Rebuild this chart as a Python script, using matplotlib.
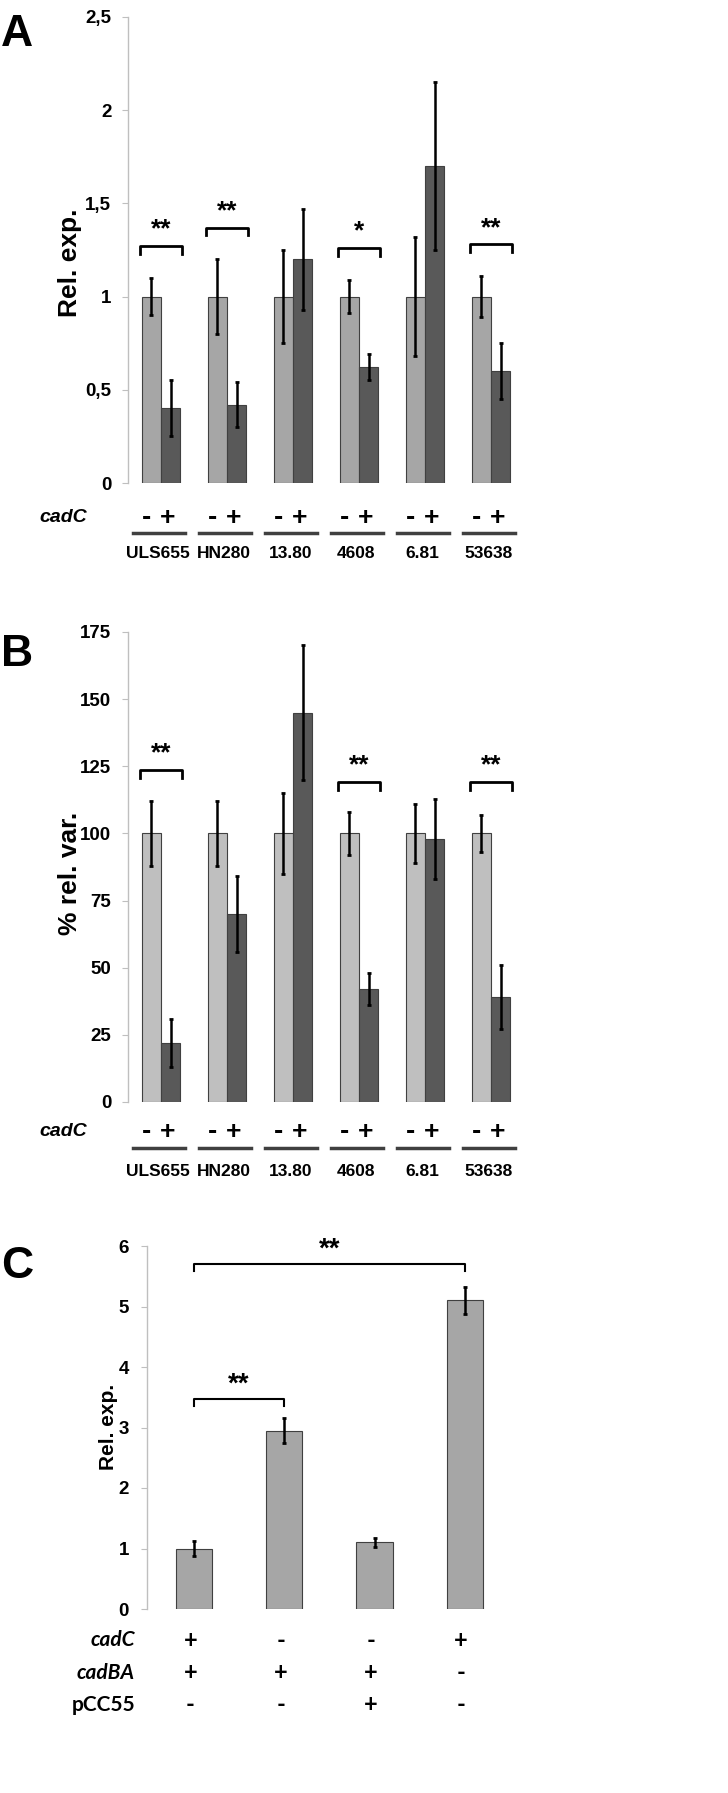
import numpy as np
import matplotlib
matplotlib.use('Agg')
import matplotlib.pyplot as plt
import matplotlib.transforms as mtransforms

# data
strains = ['ULS655', 'HN280', '13.80', '4608', '6.81', '53638']

a_minus = [1.0, 1.0, 1.0, 1.0, 1.0, 1.0]
a_minus_err = [0.10, 0.20, 0.25, 0.09, 0.32, 0.11]
a_plus = [0.40, 0.42, 1.20, 0.62, 1.70, 0.60]
a_plus_err = [0.15, 0.12, 0.27, 0.07, 0.45, 0.15]
a_sig = ['**', '**', '', '*', '', '**']
a_sig_y = [1.27, 1.37, 0, 1.26, 0, 1.28]

b_minus = [100, 100, 100, 100, 100, 100]
b_minus_err = [12, 12, 15, 8, 11, 7]
b_plus = [22, 70, 145, 42, 98, 39]
b_plus_err = [9, 14, 25, 6, 15, 12]
b_sig = ['**', '', '', '**', '', '**']
b_sig_y = [123.5, 0, 0, 119, 0, 119]

c_vals = [1.0, 2.95, 1.1, 5.1]
c_err = [0.12, 0.20, 0.08, 0.22]
c_cadC = ['+', '-', '-', '+']
c_cadBA = ['+', '+', '+', '-']
c_pCC55 = ['-', '-', '+', '-']

NARROW = ['Liberation Sans Narrow', 'Liberation Sans', 'DejaVu Sans']
BOLD = ['Liberation Sans', 'DejaVu Sans']
CAL = ['Lato', 'DejaVu Sans']

W, H = 728, 1793
fig = plt.figure(figsize=(W / 100, H / 100), dpi=100)


def fy(py):
    return 1 - py / H


def make_ax(left, right, top, bottom):
    return fig.add_axes([left / W, 1 - bottom / H, (right - left) / W, (bottom - top) / H])


def style_ax(ax, ticks, labels, pad):
    for s in ['top', 'right', 'bottom']:
        ax.spines[s].set_visible(False)
    ax.spines['left'].set_color('#bfbfbf')
    ax.spines['left'].set_linewidth(1)
    ax.set_yticks(ticks)
    ax.set_yticklabels(labels, family=NARROW, fontweight='bold', fontsize=13.5)
    ax.tick_params(axis='y', direction='out', length=4, color='#bfbfbf', pad=pad)
    ax.set_xticks([])


def paired_panel(ax, minus, minus_err, plus, plus_err, light, sig, sig_y, br_h,
                 text_row_y, line_y, name_y):
    x = np.arange(len(strains))
    bw = 0.29
    ekw = dict(ecolor='black', elinewidth=1.8, capsize=1.5, capthick=2)
    ax.bar(x - bw / 2, minus, bw, color=light, edgecolor='#404040', linewidth=0.8,
           yerr=minus_err, error_kw=ekw, zorder=2)
    ax.bar(x + bw / 2, plus, bw, color='#595959', edgecolor='#404040', linewidth=0.8,
           yerr=plus_err, error_kw=ekw, zorder=2)
    ax.set_xlim(-0.5, 5.5)
    for i, s in enumerate(sig):
        if not s:
            continue
        x0, x1 = i - bw - 0.03, i + bw + 0.03
        y = sig_y[i]
        ax.plot([x0, x0, x1, x1], [y - br_h, y, y, y - br_h], color='black', lw=2,
                clip_on=False)
        ax.text(i, y + br_h * 0.6, s, ha='center', va='bottom', fontsize=19,
                fontweight='bold', family=BOLD)
    tr = mtransforms.blended_transform_factory(ax.transData, fig.transFigure)
    for i, s in enumerate(strains):
        ax.text(i - bw / 2 - 0.07, fy(text_row_y), '-', transform=tr, ha='center',
                va='center', fontsize=20, fontweight='bold', family=BOLD)
        ax.text(i + bw / 2 - 0.05, fy(text_row_y), '+', transform=tr, ha='center',
                va='center', fontsize=19, fontweight='bold', family=BOLD)
        ax.plot([i - 0.42, i + 0.36], [fy(line_y), fy(line_y)], transform=tr,
                color='#404040', lw=2.5, clip_on=False)
        ax.text(i - 0.04, fy(name_y), s, transform=tr, ha='center', va='center',
                fontsize=12.5, fontweight='bold', family=NARROW)
    fig.text(63 / W, fy(text_row_y), 'cadC', ha='center', va='center', fontsize=14,
             fontweight='bold', style='italic', family=NARROW)


# panel A
axA = make_ax(128, 524, 17, 483)
axA.set_ylim(0, 2.5)
style_ax(axA, [0, 0.5, 1, 1.5, 2, 2.5], ['0', '0,5', '1', '1,5', '2', '2,5'], 8)
paired_panel(axA, a_minus, a_minus_err, a_plus, a_plus_err, '#a6a6a6',
             a_sig, a_sig_y, 0.04, 518, 533, 553)
fig.text(70 / W, fy(263), 'Rel. exp.', rotation=90, ha='center', va='center',
         fontsize=19, fontweight='bold', family=BOLD)
fig.text(17 / W, fy(35), 'A', ha='center', va='center', fontsize=32,
         fontweight='bold', family=BOLD)

# panel B
axB = make_ax(128, 524, 632, 1102)
axB.set_ylim(0, 175)
style_ax(axB, [0, 25, 50, 75, 100, 125, 150, 175],
         ['0', '25', '50', '75', '100', '125', '150', '175'], 8)
paired_panel(axB, b_minus, b_minus_err, b_plus, b_plus_err, '#bfbfbf',
             b_sig, b_sig_y, 3, 1132, 1148, 1172)
fig.text(70 / W, fy(873), '% rel. var.', rotation=90, ha='center', va='center',
         fontsize=19, fontweight='bold', family=BOLD)
fig.text(17 / W, fy(655), 'B', ha='center', va='center', fontsize=32,
         fontweight='bold', family=BOLD)

# panel C
axC = make_ax(147, 510, 1246, 1609)
axC.set_ylim(0, 6)
axC.set_xlim(-0.52, 3.5)
style_ax(axC, [0, 1, 2, 3, 4, 5, 6], ['0', '1', '2', '3', '4', '5', '6'], 9)
xc = np.arange(len(c_vals))
axC.bar(xc, c_vals, 0.4, color='#a6a6a6', edgecolor='#404040', linewidth=0.8,
        yerr=c_err, error_kw=dict(ecolor='black', elinewidth=1.8, capsize=1.5, capthick=2),
        zorder=2)
for (i0, i1, y) in [(0, 1, 3.47), (0, 3, 5.70)]:
    axC.plot([i0, i0, i1, i1], [y - 0.12, y, y, y - 0.12], color='black', lw=1.5,
             clip_on=False)
    axC.text((i0 + i1) / 2, y + 0.02, '**', ha='center', va='bottom', fontsize=20,
             fontweight='bold', family=BOLD)
trC = mtransforms.blended_transform_factory(axC.transData, fig.transFigure)
for lab, row, py in [('cadC', c_cadC, 1640), ('cadBA', c_cadBA, 1673), ('pCC55', c_pCC55, 1705)]:
    fig.text(135 / W, fy(py), lab, ha='right', va='center', fontsize=15,
             fontweight='bold', style='normal' if lab == 'pCC55' else 'italic', family=CAL)
    for i, s in enumerate(row):
        axC.text(i - 0.04, fy(py), s, transform=trC, ha='center', va='center',
                 fontsize=17, fontweight='bold', family=CAL)
fig.text(108 / W, fy(1427), 'Rel. exp.', rotation=90, ha='center', va='center',
         fontsize=15, fontweight='bold', family=BOLD)
fig.text(17 / W, fy(1267), 'C', ha='center', va='center', fontsize=32,
         fontweight='bold', family=BOLD)

fig.savefig('out.png', dpi=100, facecolor='white')
